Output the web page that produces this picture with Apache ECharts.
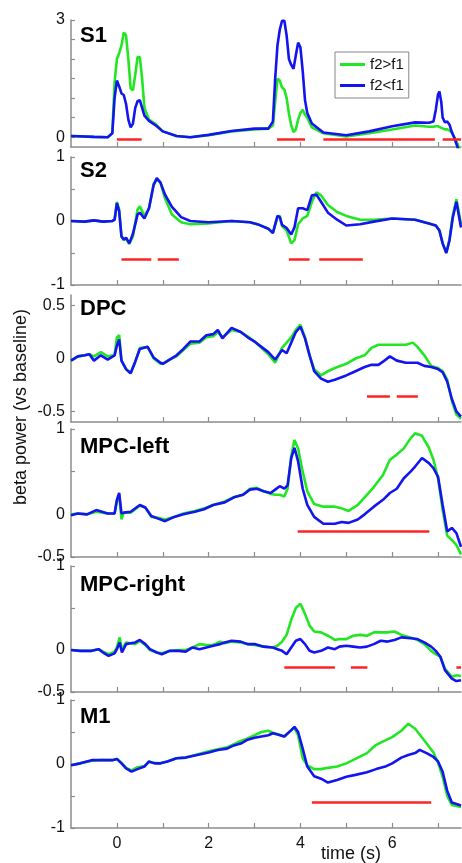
<!DOCTYPE html>
<html>
<head>
<meta charset="utf-8">
<script src="https://cdn.jsdelivr.net/npm/echarts@6/dist/echarts.min.js"></script>
<style>
html,body{margin:0;padding:0;background:#fff;}
#chart{width:462px;height:863px;}
</style>
</head>
<body>
<div id="chart"></div>
<script>
// ---------- data (time in s, beta power vs baseline) ----------
const panelNames = ['S1', 'S2', 'DPC', 'MPC-left', 'MPC-right', 'M1'];
const seriesNames = ['f2>f1', 'f2<f1'];
const xTicks = [0, 1, 2, 3, 4, 5, 6, 7];
const xTickLabels = [0, 2, 4, 6];

const tS1 = [-1, -0.5, -0.2, -0.1, -0.05, 0, 0.05, 0.1, 0.15, 0.2, 0.25, 0.3, 0.35, 0.4, 0.45, 0.5, 0.55, 0.6, 0.7, 0.85, 1.0, 1.3, 1.6, 2.0, 2.5, 3.0, 3.3, 3.4, 3.45, 3.5, 3.55, 3.6, 3.65, 3.7, 3.75, 3.8, 3.85, 3.9, 3.95, 4.0, 4.05, 4.1, 4.15, 4.25, 4.5, 5.0, 5.5, 6.0, 6.5, 6.8, 6.9, 6.95, 7.0, 7.03, 7.07, 7.1, 7.15, 7.2, 7.25, 7.3, 7.35, 7.4, 7.45, 7.5];
const gS1 = [0.03, 0.01, 0.0, 0.1, 1.4, 2.0, 2.15, 2.35, 2.68, 2.6, 2.0, 1.25, 1.2, 1.6, 2.05, 2.05, 1.5, 0.75, 0.45, 0.33, 0.15, 0.03, 0.0, 0.05, 0.15, 0.2, 0.22, 0.3, 0.9, 1.5, 1.45, 1.27, 1.22, 1.0, 0.6, 0.3, 0.13, 0.2, 0.45, 0.62, 0.7, 0.58, 0.5, 0.25, 0.1, 0.02, 0.1, 0.2, 0.3, 0.27, 0.27, 0.28, 0.28, 0.27, 0.24, 0.2, 0.2, 0.2, 0.17, 0.12, 0.0, -0.1, -0.25, -0.4];
const bS1 = [0.03, 0.01, 0.0, 0.1, 1.0, 1.45, 1.3, 1.12, 1.08, 0.85, 0.45, 0.25, 0.35, 0.75, 0.92, 0.95, 0.75, 0.55, 0.42, 0.3, 0.15, 0.03, 0.0, 0.06, 0.16, 0.22, 0.22, 0.4, 1.5, 2.35, 2.75, 2.98, 2.98, 2.6, 2.0, 1.85, 1.75, 2.1, 2.42, 2.3, 1.7, 0.95, 0.62, 0.35, 0.12, 0.05, 0.15, 0.28, 0.38, 0.37, 0.4, 0.7, 1.1, 1.17, 0.9, 0.5, 0.38, 0.4, 0.32, 0.13, 0.0, -0.17, -0.35, -0.5];

const tS2 = [-1, -0.7, -0.5, -0.3, -0.1, -0.05, 0, 0.05, 0.1, 0.15, 0.2, 0.27, 0.35, 0.45, 0.5, 0.6, 0.7, 0.8, 0.87, 0.95, 1.05, 1.2, 1.4, 1.6, 2, 2.5, 2.9, 3.1, 3.3, 3.4, 3.5, 3.55, 3.6, 3.7, 3.8, 3.87, 3.95, 4.05, 4.15, 4.25, 4.35, 4.45, 4.6, 4.8, 5.0, 5.3, 5.6, 6.0, 6.5, 6.8, 6.95, 7.03, 7.1, 7.18, 7.25, 7.32, 7.4, 7.5];
const gS2 = [0.0, -0.01, 0.01, -0.01, 0.0, 0.02, 0.3, 0.18, -0.25, -0.3, -0.27, -0.36, -0.24, 0.18, 0.23, 0.08, 0.2, 0.58, 0.65, 0.6, 0.35, 0.1, -0.02, -0.05, -0.04, 0.0, -0.02, -0.06, -0.12, -0.18, 0.06, 0.08, -0.08, -0.15, -0.35, -0.3, -0.05, 0.04, 0.08, 0.3, 0.45, 0.4, 0.25, 0.14, 0.08, 0.02, 0.02, 0.04, 0.02, -0.04, -0.07, -0.15, -0.35, -0.5, -0.28, 0.08, 0.34, -0.05];
const bS2 = [0.0, -0.01, 0.01, -0.01, 0.0, 0.02, 0.28, 0.15, -0.24, -0.29, -0.26, -0.35, -0.2, 0.1, 0.13, 0.04, 0.2, 0.56, 0.67, 0.6, 0.41, 0.22, 0.06, 0.0, -0.02, 0.0, -0.02, -0.06, -0.12, -0.19, 0.08, 0.06, -0.06, -0.11, -0.21, -0.1, 0.2, 0.2, 0.17, 0.4, 0.41, 0.3, 0.13, 0.02, -0.07, -0.05, -0.01, 0.04, 0.02, -0.04, -0.07, -0.15, -0.35, -0.5, -0.3, 0.05, 0.3, -0.1];

const tDPC = [-1, -0.85, -0.7, -0.6, -0.5, -0.35, -0.2, -0.05, 0, 0.05, 0.1, 0.2, 0.3, 0.4, 0.5, 0.67, 0.8, 0.95, 1.0, 1.15, 1.3, 1.45, 1.6, 1.8, 1.95, 2.1, 2.2, 2.3, 2.5, 2.7, 2.85, 3.0, 3.15, 3.3, 3.45, 3.6, 3.7, 3.8, 3.9, 4.0, 4.1, 4.2, 4.3, 4.45, 4.6, 4.75, 5.0, 5.2, 5.4, 5.55, 5.7, 5.8, 5.95, 6.1, 6.3, 6.45, 6.55, 6.7, 6.85, 7.0, 7.1, 7.2, 7.3, 7.4, 7.5];
const gDPC = [-0.02, 0.02, 0.03, 0.04, 0.02, 0.06, 0.02, 0.03, 0.2, 0.22, -0.02, -0.1, -0.14, -0.03, 0.1, 0.11, 0.0, -0.05, -0.05, -0.01, 0.02, 0.08, 0.14, 0.15, 0.2, 0.21, 0.25, 0.2, 0.27, 0.25, 0.21, 0.16, 0.1, 0.04, -0.04, 0.1, 0.15, 0.2, 0.27, 0.32, 0.2, 0.03, -0.1, -0.16, -0.12, -0.09, -0.05, 0.0, 0.03, 0.1, 0.13, 0.13, 0.13, 0.13, 0.13, 0.15, 0.11, 0.03, -0.07, -0.09, -0.12, -0.2, -0.4, -0.53, -0.57];
const bDPC = [-0.02, 0.02, 0.03, 0.04, -0.02, 0.03, -0.01, 0.03, 0.12, 0.18, -0.02, -0.1, -0.14, -0.03, 0.09, 0.11, 0.01, -0.04, -0.05, -0.01, 0.03, 0.09, 0.16, 0.16, 0.22, 0.23, 0.27, 0.19, 0.29, 0.25, 0.2, 0.16, 0.11, 0.06, -0.01, 0.08, 0.05, 0.15, 0.25, 0.3, 0.19, 0.03, -0.12, -0.19, -0.22, -0.2, -0.16, -0.12, -0.08, -0.06, -0.06, -0.03, 0.02, -0.02, -0.04, -0.04, -0.04, -0.07, -0.08, -0.1, -0.13, -0.22, -0.38, -0.5, -0.55];

const tML = [-1, -0.85, -0.65, -0.45, -0.2, -0.05, 0, 0.05, 0.1, 0.15, 0.3, 0.5, 0.62, 0.75, 0.9, 1.05, 1.25, 1.45, 1.7, 1.9, 2.1, 2.35, 2.55, 2.75, 2.9, 3.05, 3.2, 3.35, 3.45, 3.55, 3.65, 3.72, 3.8, 3.87, 3.95, 4.05, 4.15, 4.3, 4.5, 4.75, 4.9, 5.05, 5.25, 5.4, 5.6, 5.8, 5.95, 6.1, 6.25, 6.4, 6.5, 6.65, 6.8, 6.9, 7.0, 7.1, 7.2, 7.3, 7.4, 7.5];
const gML = [0.0, 0.01, 0.0, 0.03, 0.01, 0.01, 0.15, 0.23, -0.06, 0.02, 0.02, 0.1, 0.08, -0.03, -0.04, -0.06, -0.03, 0.01, 0.04, 0.07, 0.11, 0.15, 0.2, 0.23, 0.3, 0.31, 0.27, 0.24, 0.23, 0.23, 0.21, 0.3, 0.68, 0.87, 0.77, 0.5, 0.27, 0.12, 0.09, 0.09, 0.07, 0.04, 0.11, 0.2, 0.32, 0.46, 0.64, 0.7, 0.77, 0.89, 0.95, 0.92, 0.78, 0.64, 0.42, 0.05, -0.25, -0.3, -0.36, -0.47];
const bML = [-0.01, 0.01, 0.0, 0.05, 0.01, 0.01, 0.17, 0.25, 0.01, 0.02, 0.03, 0.11, 0.08, -0.02, -0.05, -0.08, -0.03, 0.0, 0.03, 0.06, 0.11, 0.14, 0.2, 0.23, 0.29, 0.3, 0.27, 0.25, 0.29, 0.33, 0.3, 0.34, 0.66, 0.78, 0.62, 0.3, 0.11, -0.03, -0.11, -0.11, -0.09, -0.1, -0.06, 0.0, 0.09, 0.17, 0.25, 0.3, 0.42, 0.5, 0.56, 0.66, 0.6, 0.54, 0.44, 0.11, -0.2, -0.16, -0.22, -0.38];

const tMR = [-1, -0.8, -0.55, -0.4, -0.3, -0.18, -0.05, 0, 0.06, 0.11, 0.2, 0.3, 0.4, 0.5, 0.62, 0.72, 0.87, 0.98, 1.15, 1.35, 1.5, 1.65, 1.8, 1.95, 2.1, 2.25, 2.35, 2.5, 2.7, 2.85, 3.0, 3.2, 3.4, 3.5, 3.6, 3.7, 3.8, 3.9, 4.0, 4.1, 4.2, 4.3, 4.45, 4.6, 4.75, 4.85, 5.0, 5.15, 5.3, 5.45, 5.6, 5.75, 5.9, 6.05, 6.2, 6.4, 6.55, 6.7, 6.85, 6.95, 7.05, 7.15, 7.3, 7.4, 7.5];
const gMR = [0.0, -0.01, -0.01, 0.01, -0.02, -0.05, -0.02, 0.03, 0.15, 0.0, 0.09, 0.08, 0.07, 0.11, 0.06, 0.0, -0.03, -0.04, -0.01, 0.0, 0.0, 0.03, 0.07, 0.06, 0.06, 0.1, 0.08, 0.1, 0.09, 0.07, 0.06, 0.04, 0.03, 0.05, 0.1, 0.18, 0.36, 0.5, 0.55, 0.43, 0.29, 0.22, 0.21, 0.17, 0.12, 0.13, 0.13, 0.17, 0.18, 0.17, 0.21, 0.21, 0.21, 0.22, 0.18, 0.15, 0.12, 0.07, -0.01, -0.05, -0.08, -0.22, -0.32, -0.3, -0.31];
const bMR = [0.0, -0.01, -0.01, 0.01, -0.03, -0.07, -0.04, 0.01, 0.09, -0.03, 0.07, 0.08, 0.09, 0.12, 0.07, 0.01, -0.03, -0.05, -0.01, -0.01, -0.02, 0.03, 0.01, 0.03, 0.05, 0.07, 0.09, 0.11, 0.1, 0.07, 0.07, 0.04, 0.03, 0.01, -0.01, -0.05, 0.03, 0.11, 0.13, 0.07, -0.01, -0.03, -0.01, 0.03, 0.01, 0.04, 0.05, 0.04, 0.03, 0.04, 0.07, 0.11, 0.1, 0.12, 0.15, 0.14, 0.13, 0.09, 0.04, -0.01, -0.08, -0.24, -0.34, -0.37, -0.36];

const tM1 = [-1, -0.8, -0.55, -0.35, -0.1, 0, 0.1, 0.2, 0.32, 0.45, 0.6, 0.7, 0.82, 0.95, 1.1, 1.3, 1.5, 1.75, 2.0, 2.2, 2.4, 2.55, 2.7, 2.85, 3.0, 3.15, 3.3, 3.4, 3.5, 3.65, 3.8, 3.87, 3.95, 4.05, 4.15, 4.3, 4.45, 4.6, 4.8, 5.0, 5.2, 5.45, 5.65, 5.85, 6.0, 6.2, 6.35, 6.5, 6.6, 6.75, 6.9, 7.0, 7.1, 7.2, 7.3, 7.5];
const gM1 = [-0.02, 0.01, 0.05, 0.06, 0.06, 0.08, 0.02, -0.06, -0.1, -0.05, -0.03, 0.03, 0.02, 0.01, 0.04, 0.09, 0.1, 0.15, 0.2, 0.23, 0.26, 0.31, 0.36, 0.4, 0.45, 0.5, 0.52, 0.49, 0.47, 0.43, 0.53, 0.56, 0.45, 0.09, -0.02, -0.08, -0.08, -0.06, -0.04, 0.01, 0.08, 0.17, 0.3, 0.37, 0.42, 0.52, 0.63, 0.55, 0.46, 0.32, 0.18, 0.02, -0.2, -0.5, -0.64, -0.67];
const bM1 = [-0.02, 0.01, 0.06, 0.06, 0.06, 0.08, 0.01, -0.07, -0.12, -0.08, -0.04, 0.04, 0.01, 0.01, 0.04, 0.09, 0.1, 0.14, 0.18, 0.22, 0.24, 0.29, 0.32, 0.38, 0.41, 0.43, 0.45, 0.48, 0.46, 0.43, 0.53, 0.58, 0.5, 0.24, -0.04, -0.19, -0.23, -0.29, -0.25, -0.2, -0.17, -0.13, -0.08, -0.04, 0.01, 0.1, 0.14, 0.17, 0.22, 0.17, 0.11, 0.04, -0.12, -0.42, -0.6, -0.65];

// significance intervals [start, end] (s) and the level they are drawn at
const sigS1 = [[0, 0.54], [3.49, 4.1], [4.5, 6.93], [7.1, 7.5]];
const sigS2 = [[0.1, 0.75], [0.89, 1.35], [3.75, 4.2], [4.41, 5.36]];
const sigDPC = [[5.45, 5.95], [6.1, 6.56]];
const sigML = [[3.94, 6.81]];
const sigMR = [[3.65, 4.75], [5.1, 5.46], [7.4, 7.5]];
const sigM1 = [[4.25, 6.85]];
const sigLevels = [-0.04, -0.6, -0.36, -0.2, -0.21, -0.59];

// y axis ranges, labelled ticks and tick marks
const yMins = [-0.25, -1, -0.6, -0.5, -0.5, -1];
const yMaxs = [3, 1, 0.6, 1, 1, 1];
const yLabels = [[0, 3], [-1, 0, 1], [-0.5, 0, 0.5], [-0.5, 0, 1], [-0.5, 0, 1], [-1, 0, 1]];
const yTicks = [[0, 0.5, 1, 1.5, 2, 2.5, 3], [-1, -0.5, 0, 0.5, 1], [-0.5, 0, 0.5], [-0.5, 0, 0.5, 1], [-0.5, 0, 0.5, 1], [-1, -0.5, 0, 0.5, 1]];

const times = [tS1, tS2, tDPC, tML, tMR, tM1];
const greens = [gS1, gS2, gDPC, gML, gMR, gM1];
const blues = [bS1, bS2, bDPC, bML, bMR, bM1];
const sigs = [sigS1, sigS2, sigDPC, sigML, sigMR, sigM1];

// ---------- layout / style ----------
const FONT = 'Liberation Sans, Arial, sans-serif';
const gridTops = [20, 157, 295, 429, 566, 700];
const gridHeights = [127, 128, 127, 128, 126, 128];
const GREEN = '#22e622', BLUE = '#1414f0', RED = '#ff2222', AXIS = '#8c8c8c';

const grids = [], xAxes = [], yAxes = [], series = [], graphics = [];
for (let i = 0; i < 6; i++) {
  grids.push({left: 71, width: 390, top: gridTops[i], height: gridHeights[i]});
  const last = i === 5;
  xAxes.push({
    type: 'value', gridIndex: i, min: -1, max: 7.5,
    axisLine: {show: true, onZero: false, lineStyle: {color: AXIS, width: 1.5}},
    axisTick: {show: true, inside: true, length: 5, customValues: xTicks, lineStyle: {color: AXIS, width: 1.2}},
    axisLabel: {show: last, customValues: xTickLabels, color: '#111', fontSize: 16, fontFamily: FONT, margin: 8},
    splitLine: {show: false}
  });
  yAxes.push({
    type: 'value', gridIndex: i, min: yMins[i], max: yMaxs[i],
    axisLine: {show: true, onZero: false, lineStyle: {color: AXIS, width: 1.5}},
    axisTick: {show: true, inside: true, length: 4, customValues: yTicks[i], lineStyle: {color: AXIS, width: 1.2}},
    axisLabel: {show: true, customValues: yLabels[i], color: '#111', fontSize: 16, fontFamily: FONT, margin: 6,
      showMinLabel: true, showMaxLabel: true},
    splitLine: {show: false}
  });
  const t = times[i];
  series.push({
    name: seriesNames[0], type: 'line', xAxisIndex: i, yAxisIndex: i,
    data: t.map((x, k) => [x, greens[i][k]]),
    symbol: 'none', clip: true, lineStyle: {color: GREEN, width: 2.6}, itemStyle: {color: GREEN},
    z: 2,
    markLine: {
      silent: true, symbol: ['none', 'none'], label: {show: false},
      lineStyle: {color: RED, width: 2.5, type: 'solid'},
      emphasis: {disabled: true},
      data: sigs[i].map(s => [{coord: [s[0], sigLevels[i]]}, {coord: [s[1], sigLevels[i]]}])
    }
  });
  series.push({
    name: seriesNames[1], type: 'line', xAxisIndex: i, yAxisIndex: i,
    data: t.map((x, k) => [x, blues[i][k]]),
    symbol: 'none', clip: true, lineStyle: {color: BLUE, width: 2.6}, itemStyle: {color: BLUE},
    z: 3
  });
}

const labelCenters = [36, 171, 309, 447, 585, 717];
panelNames.forEach((n, i) => {
  graphics.push({type: 'text', x: 80, y: labelCenters[i],
    style: {text: n, fontSize: 22, fontWeight: 'bold', fontFamily: FONT, fill: '#000', textVerticalAlign: 'middle'}});
});
graphics.push({type: 'text', x: 21, y: 407, rotation: Math.PI / 2,
  style: {text: 'beta power (vs baseline)', fontSize: 18, fontFamily: FONT, fill: '#111', textAlign: 'center', textVerticalAlign: 'middle'}});
graphics.push({type: 'text', x: 351, y: 854,
  style: {text: 'time (s)', fontSize: 18, fontFamily: FONT, fill: '#111', textAlign: 'center', textVerticalAlign: 'middle'}});

const chart = echarts.init(document.getElementById('chart'), null, {renderer: 'canvas'});
chart.setOption({
  animation: false,
  backgroundColor: '#fff',
  grid: grids, xAxis: xAxes, yAxis: yAxes, series: series,
  legend: {
    data: seriesNames, orient: 'vertical', left: 335, top: 52,
    icon: 'rect', padding: [5, 5, 5, 5], itemGap: 6, itemWidth: 25, itemHeight: 3,
    borderColor: '#888', borderWidth: 1, backgroundColor: '#fff',
    textStyle: {fontSize: 15, fontFamily: FONT, color: '#111'},
    selectedMode: false
  },
  graphic: graphics
});
</script>
</body>
</html>
